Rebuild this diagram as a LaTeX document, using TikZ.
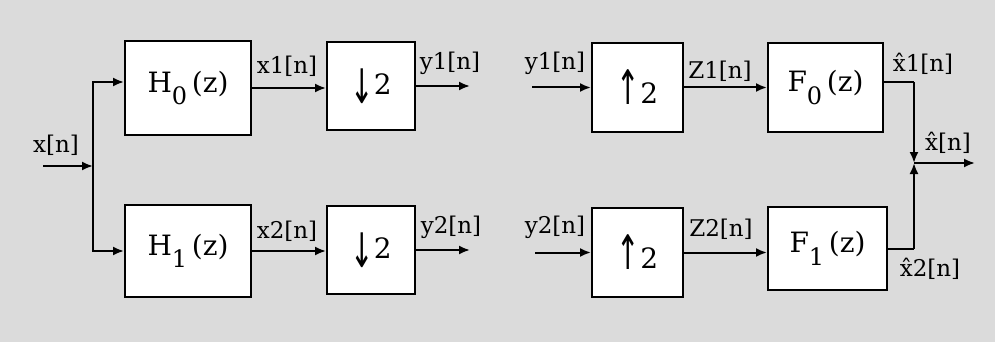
\documentclass[tikz,border=0pt]{standalone}
\usepackage{fontspec}
\setmainfont{DejaVu Serif}
\newfontfamily\arrowfont{DejaVu Sans}
\usetikzlibrary{arrows.meta}

\definecolor{paper}{gray}{0.86}

\tikzset{
  block/.style={draw=black, fill=white, line width=2pt, inner sep=0pt},
  sig/.style={line width=2pt, -{Latex[length=11pt,width=9pt]}},
  wire/.style={line width=2pt},
  lbl/.style={font=\fontsize{23}{25}\selectfont, inner sep=0pt},
  blocktext/.style={font=\fontsize{28}{30}\selectfont},
}

\newcommand{\sub}[1]{\raisebox{-0.45em}{\fontsize{24}{26}\selectfont #1}}
\newcommand{\dn}{\raisebox{-0.3em}{\scalebox{1}[1.7]{\arrowfont ↓}}}
\newcommand{\upa}{\raisebox{-0.05em}{\scalebox{1}[1.7]{\arrowfont ↑}}}

\begin{document}
\begin{tikzpicture}[x=1pt, y=-1pt]
  % page and paper tone
  \fill[paper] (0,0) rectangle (995,342);
  \useasboundingbox (0,0) rectangle (995,342);

  % analysis bank
  \node[block, minimum width=126pt, minimum height=94pt, blocktext] (H0) at (188,88) {H\sub{0}\,(z)};
  \node[block, minimum width=126pt, minimum height=92pt, blocktext] (H1) at (188,251) {H\sub{1}\,(z)};
  \node[block, minimum width=88pt, minimum height=88pt, blocktext] (D0) at (371,86) {\dn2};
  \node[block, minimum width=88pt, minimum height=88pt, blocktext] (D1) at (371,250) {\dn2};

  % synthesis bank
  \node[block, minimum width=91pt, minimum height=89pt, blocktext] (U0) at (637.5,87.5) {\upa2};
  \node[block, minimum width=91pt, minimum height=89pt, blocktext] (U1) at (637.5,252.5) {\upa2};
  \node[block, minimum width=115pt, minimum height=89pt, blocktext] (F0) at (825.5,87.5) {F\sub{0}\,(z)};
  \node[block, minimum width=119pt, minimum height=83pt, blocktext] (F1) at (827.5,248.5) {F\sub{1}\,(z)};

  % wire end points
  \coordinate (xin) at (43,166);
  \coordinate (split) at (93,166);
  \coordinate (y1out) at (470,86);
  \coordinate (y2out) at (470,250);
  \coordinate (y1in) at (532,87.5);
  \coordinate (y2in) at (535,252.5);
  \coordinate (f0turn) at (914,82);
  \coordinate (f1turn) at (914,248.5);
  \coordinate (sum) at (914,163);
  \coordinate (xout) at (975,163);

  % input and splitting
  \draw[sig] (xin) -- (split);
  \draw[sig] (split) |- ([yshift=6pt]H0.west);
  \draw[sig] (split) |- (H1.west);

  % decimation paths
  \draw[sig] (H0.east) -- (H0.east -| D0.west);
  \draw[sig] (H1.east) -- (H1.east -| D1.west);
  \draw[sig] (D0.east) -- (y1out);
  \draw[sig] (D1.east) -- (y2out);

  % interpolation paths
  \draw[sig] (y1in) -- (U0.west);
  \draw[sig] (y2in) -- (U1.west);
  \draw[sig] (U0.east) -- (U0.east -| F0.west);
  \draw[sig] (U1.east) -- (U1.east -| F1.west);

  % recombination
  \draw[wire] ([yshift=5.5pt]F0.east) -- (f0turn);
  \draw[sig] (f0turn) -- (sum);
  \draw[wire] (F1.east) -- (f1turn);
  \draw[sig] (f1turn) -- (sum);
  \draw[sig] (sum) -- (xout);

  % signal labels
  \node[lbl] (lx)   at (56,145)  {x[n]};
  \node[lbl] (lx1)  at (287,66)  {x1[n]};
  \node[lbl] (lx2)  at (287,231) {x2[n]};
  \node[lbl] (ly1)  at (450,63)  {y1[n]};
  \node[lbl] (ly2)  at (451,227) {y2[n]};
  \node[lbl] (ly1b) at (555,63)  {y1[n]};
  \node[lbl] (ly2b) at (555,227) {y2[n]};
  \node[lbl] (lz1)  at (720,71)  {Z1[n]};
  \node[lbl] (lz2)  at (721,229) {Z2[n]};
  \node[lbl] (lxh1) at (923,64)  {\^{x}1[n]};
  \node[lbl] (lxh)  at (948,143) {\^{x}[n]};
  \node[lbl] (lxh2) at (930,269) {\^{x}2[n]};
\end{tikzpicture}
\end{document}
